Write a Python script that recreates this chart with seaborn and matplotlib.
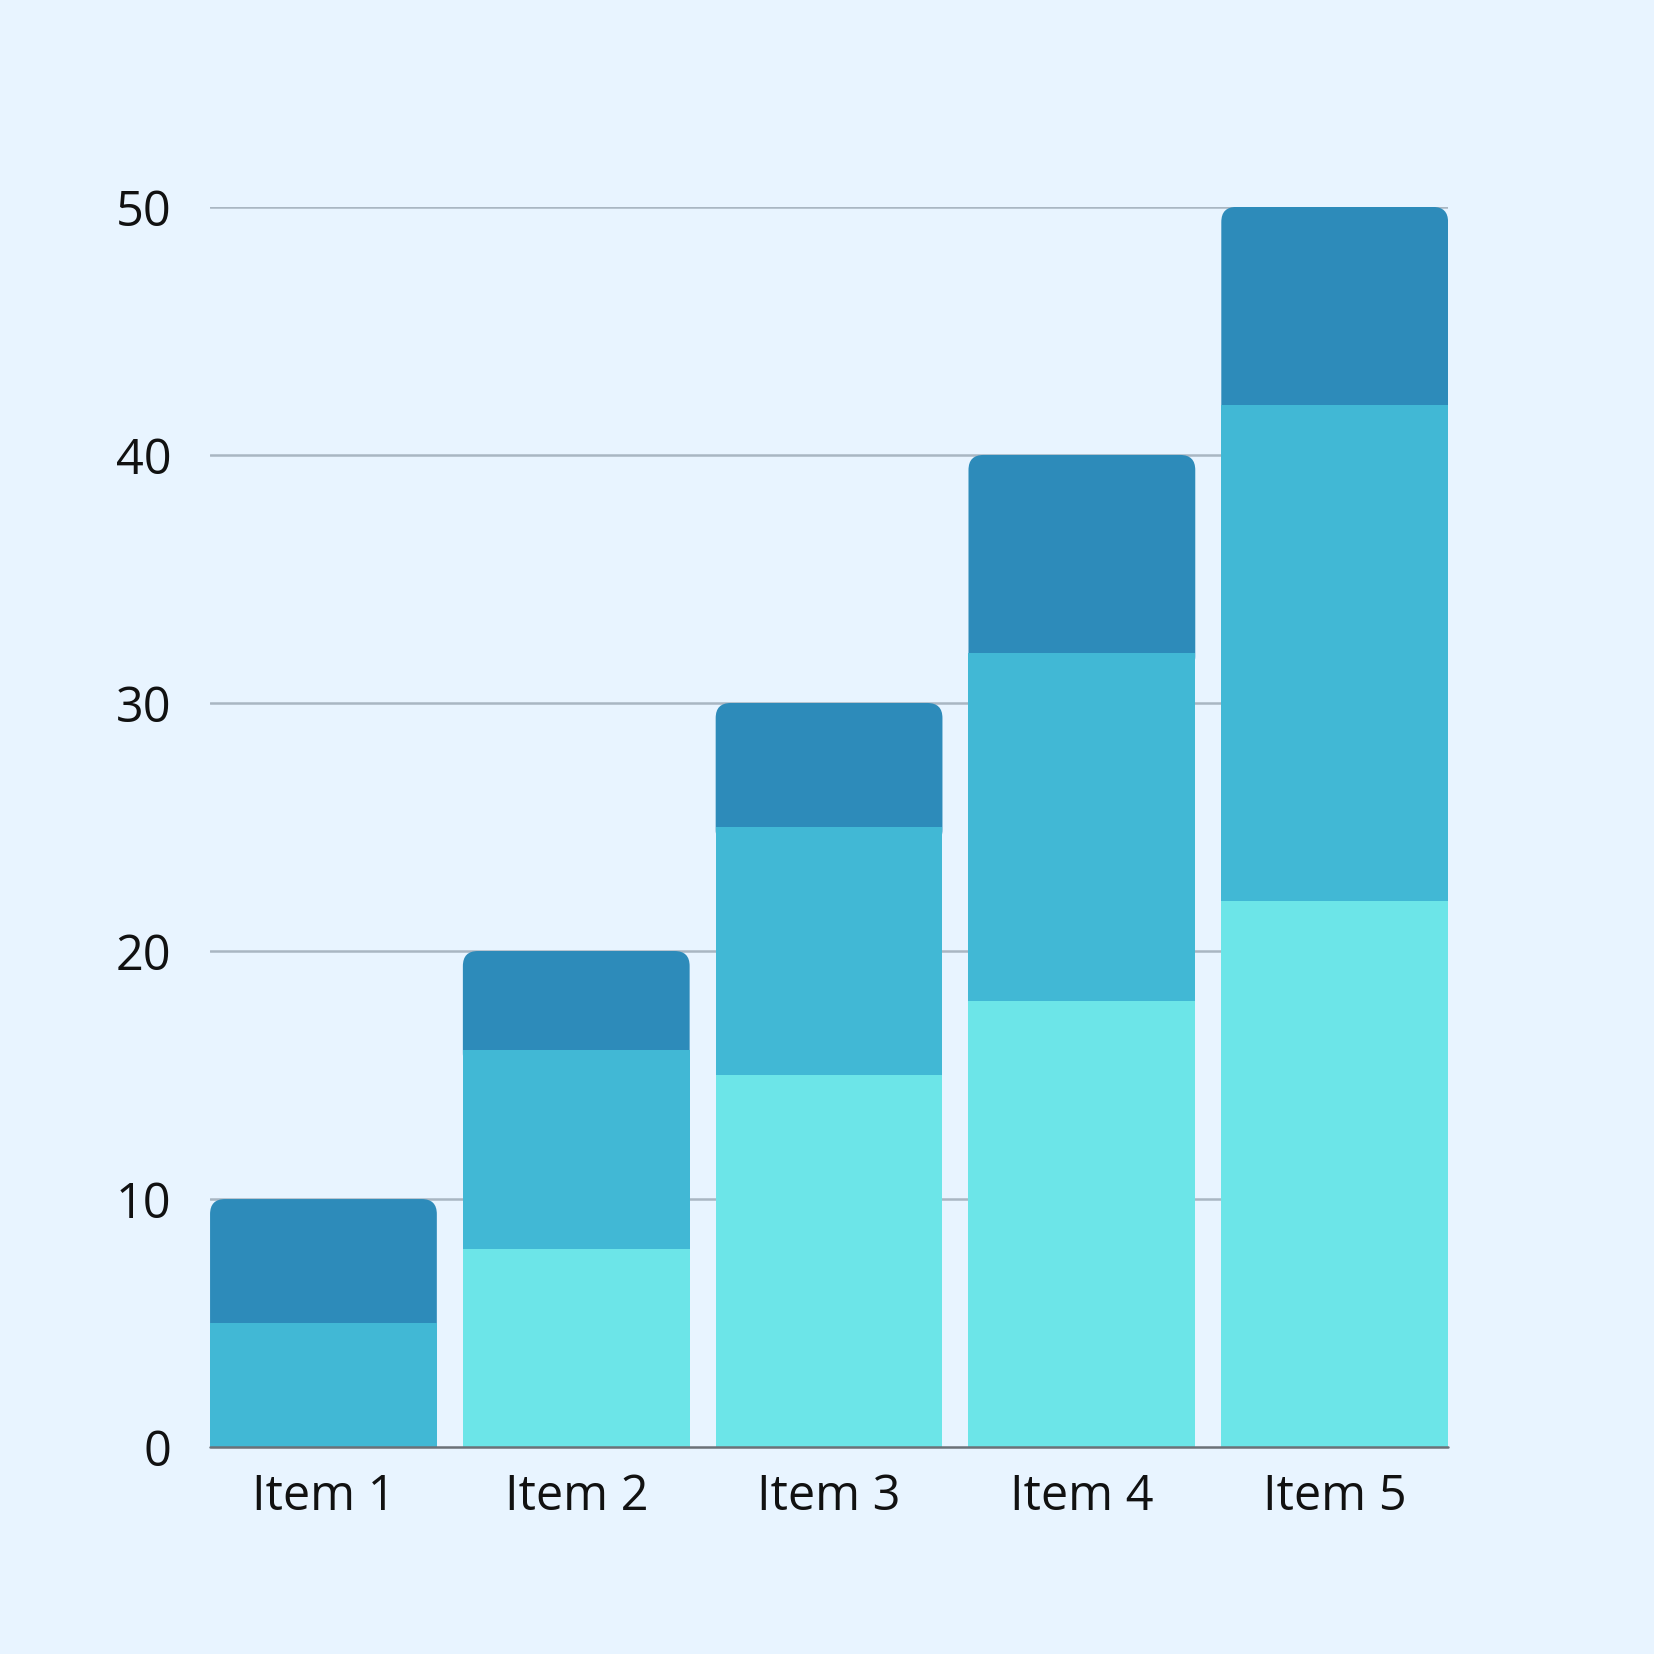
import matplotlib
matplotlib.use("Agg")
import matplotlib.pyplot as plt
import seaborn as sns
import pandas as pd
from matplotlib.patches import FancyBboxPatch

items = ["Item 1", "Item 2", "Item 3", "Item 4", "Item 5"]
series_a = [0, 8, 15, 18, 22]   # light cyan (bottom)
series_b = [5, 8, 10, 14, 20]   # mid blue
series_c = [5, 4, 5, 8, 8]      # dark blue (top)
yticks = [0, 10, 20, 30, 40, 50]

c_a = "#6CE5E8"
c_b = "#41B8D5"
c_c = "#2D8BBA"
bg = "#E8F4FF"

cum_a = series_a
cum_b = [a + b for a, b in zip(series_a, series_b)]
cum_c = [a + b + c for a, b, c in zip(series_a, series_b, series_c)]
df = pd.DataFrame({"item": items, "a": cum_a, "b": cum_b, "c": cum_c})

sns.set_theme(style="white")
plt.rcParams["font.family"] = ["Open Sans", "DejaVu Sans"]

fig = plt.figure(figsize=(16.54, 16.54), dpi=100, facecolor=bg)
ax = fig.add_axes([0.127, 0.1251, 0.8755 - 0.127, 0.8749 - 0.1251])
ax.set_facecolor(bg)

W = 0.897
kw = dict(width=W, saturation=1, ax=ax, edgecolor="none", linewidth=0)
sns.barplot(data=df, x="item", y="c", color=c_c, zorder=2, **kw)
top_patches = list(ax.patches)
sns.barplot(data=df, x="item", y="b", color=c_b, zorder=3, **kw)
mid_patches = [p for p in ax.patches if p not in top_patches]
sns.barplot(data=df, x="item", y="a", color=c_a, zorder=4, **kw)

ax.set_xlim(-W / 2, len(items) - 1 + W / 2)
ax.set_ylim(0, 50)

# replace top bars with versions rounded at the top
fig.canvas.draw()
bbox = ax.get_window_extent()
px_per_x = bbox.width / (ax.get_xlim()[1] - ax.get_xlim()[0])
px_per_y = bbox.height / (ax.get_ylim()[1] - ax.get_ylim()[0])
aspect = px_per_x / px_per_y
r_px = 15
overlap = (r_px + 3) / px_per_y
for p, m in zip(top_patches, mid_patches):
    x0, w = p.get_x(), p.get_width()
    y_top = p.get_y() + p.get_height()
    y_bot = m.get_y() + m.get_height() - overlap
    p.remove()
    rp = FancyBboxPatch((x0, y_bot), w, y_top - y_bot,
                        boxstyle=f"round,pad=0,rounding_size={r_px / px_per_x}",
                        mutation_aspect=aspect, facecolor=c_c, edgecolor="none",
                        linewidth=0, zorder=2)
    ax.add_patch(rp)

ax.set_yticks(yticks)
ax.set_yticklabels([str(t) for t in yticks])
ax.set_xlabel("")
ax.set_ylabel("")

for t in yticks[1:]:
    ax.axhline(t, color="#A9B6C2", lw=1.8, zorder=1)
ax.axhline(0, color="#6B7178", lw=1.8, zorder=6, clip_on=False)

for s in ax.spines.values():
    s.set_visible(False)
ax.tick_params(axis="both", length=0, labelsize=35, colors="#111111")
ax.tick_params(axis="y", pad=28)
ax.tick_params(axis="x", pad=18)

fig.savefig("out.png", dpi=100, facecolor=bg)
